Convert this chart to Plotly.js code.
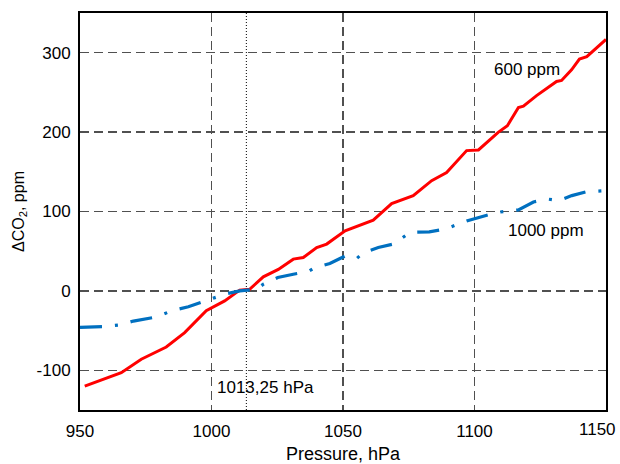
<!DOCTYPE html>
<html>
<head>
<meta charset="utf-8">
<script src="https://cdn.plot.ly/plotly-3.0.1.min.js"></script>
<style>html,body{margin:0;padding:0;background:#fff;}#chart{width:620px;height:464px;}</style>
</head>
<body>
<div id="chart"></div>
<script>
// 600 ppm series
const p600 = [951.8, 965.7, 973.3, 982.8, 989.8, 998.0, 1005.0, 1010.7, 1014.5, 1019.7, 1025.4, 1031.1, 1034.9, 1040.0, 1043.8, 1050.8, 1061.5, 1068.5, 1076.7, 1083.7, 1089.4, 1097.0, 1101.5, 1109.0, 1112.5, 1116.7, 1118.6, 1123.6, 1131.2, 1133.1, 1136.9, 1139.9, 1142.7, 1150.0];
const d600 = [-120, -103, -86, -70.7, -52.6, -25, -12.6, 1, 2, 17.7, 27, 40, 42, 54.7, 59, 75.7, 89, 110, 120, 138.8, 149, 176.7, 177.5, 199.7, 208, 231, 232.6, 246, 263.7, 265, 278.5, 292, 295, 316.7];
// 1000 ppm series
const p1000 = [950.0, 958.9, 964.8, 970.3, 979.1, 984.9, 991.2, 999.7, 1005.8, 1010.8, 1017.2, 1019.7, 1025.2, 1031.1, 1036.8, 1039.3, 1045.0, 1050.8, 1055.2, 1057.7, 1063.4, 1069.1, 1075.5, 1082.8, 1088.8, 1097.0, 1102.7, 1108.4, 1116.7, 1122.4, 1128.0, 1131.9, 1137.0, 1142.7, 1148.4, 1150.0];
const d1000 = [-46, -45, -43, -38, -32.8, -25, -20, -10.5, -3.4, 0, 2, 8.4, 16.8, 21, 24.4, 29.4, 34.5, 44, 40.8, 48, 54.7, 59, 73.6, 74.4, 77.8, 88, 93, 98.8, 102, 112, 115.6, 113.6, 120, 125, 126, 129];
const xTicks = [950, 1000, 1050, 1100, 1150];
const yTicks = [-100, 0, 100, 200, 300];
const refPressure = 1013.25;
const labels = ["600 ppm", "1000 ppm", "1013,25 hPa"];

const font = "Liberation Sans, Arial, sans-serif";
const lastTick = xTicks[xTicks.length - 1];

const traces = [
  {x: p600, y: d600, mode: "lines", line: {color: "#ff0000", width: 3}, hoverinfo: "skip"},
  {x: p1000, y: d1000, mode: "lines", line: {color: "#0070c0", width: 3.2, dash: "22px,13px,3px,13px"}, hoverinfo: "skip"}
];

const layout = {
  width: 620, height: 464,
  margin: {l: 80, r: 14, t: 13, b: 54},
  paper_bgcolor: "#fff", plot_bgcolor: "#fff",
  showlegend: false,
  font: {family: font, size: 17, color: "#000"},
  xaxis: {
    range: [950, 1150], tickvals: xTicks,
    ticktext: xTicks.map(v => v === lastTick ? "" : String(v)),
    showgrid: true, gridcolor: "#505050", gridwidth: 1.3, griddash: "9px,5px",
    zeroline: false, showline: true, linecolor: "#000", linewidth: 2, mirror: true,
    ticks: "", ticklabelstandoff: 5, tickfont: {size: 17, family: font},
    title: {text: "Pressure, hPa", font: {size: 18, family: font}, standoff: 14}
  },
  yaxis: {
    range: [-150, 350], tickvals: yTicks, ticktext: yTicks.map(String),
    showgrid: true, gridcolor: "#505050", gridwidth: 1.3, griddash: "9px,5px",
    zeroline: false, showline: true, linecolor: "#000", linewidth: 2, mirror: true,
    ticks: "", ticklabelstandoff: 4, tickfont: {size: 17, family: font},
    title: {text: "ΔCO<sub>2</sub>, ppm", font: {size: 16, family: font}, standoff: 8}
  },
  shapes: [
    {type: "line", xref: "x", yref: "paper", x0: refPressure, x1: refPressure, y0: 0, y1: 1,
     line: {color: "#000", width: 1, dash: "1px,2px"}, layer: "below"}
  ],
  annotations: [
    {x: 1120, y: 279, xref: "x", yref: "y", text: labels[0], showarrow: false, font: {size: 17, family: font}},
    {x: 1127, y: 75.7, xref: "x", yref: "y", text: labels[1], showarrow: false, font: {size: 17, family: font}},
    {x: 1020.7, y: -122, xref: "x", yref: "y", text: labels[2], showarrow: false, font: {size: 17, family: font}},
    {x: lastTick, y: 0, xref: "x", yref: "paper", yanchor: "top", xanchor: "right", xshift: 12, yshift: -8,
     text: String(lastTick), showarrow: false, font: {size: 17, family: font}}
  ]
};

Plotly.newPlot("chart", traces, layout, {staticPlot: true, displayModeBar: false});
</script>
</body>
</html>
